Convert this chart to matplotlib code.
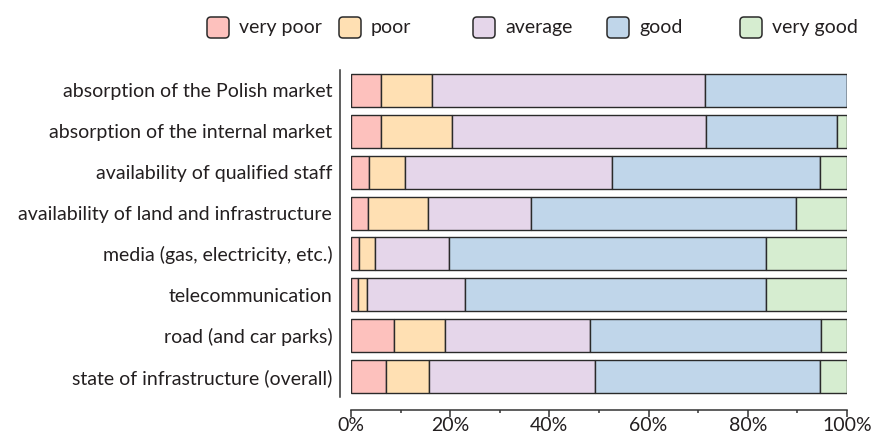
import matplotlib
matplotlib.use("Agg")
import matplotlib.pyplot as plt
from matplotlib.patches import FancyBboxPatch
from matplotlib.ticker import MultipleLocator
from matplotlib.transforms import IdentityTransform
import numpy as np

plt.rcParams['font.family'] = ['Lato', 'DejaVu Sans']

categories = [
    "absorption of the Polish market",
    "absorption of the internal market",
    "availability of qualified staff",
    "availability of land and infrastructure",
    "media (gas, electricity, etc.)",
    "telecommunication",
    "road (and car parks)",
    "state of infrastructure (overall)",
]
series_names = ["very poor", "poor", "average", "good", "very good"]
very_poor = [6.1, 6.1, 3.6, 3.4, 1.6, 1.5, 8.6, 7.0]
poor      = [10.2, 14.2, 7.3, 12.1, 3.3, 1.7, 10.4, 8.8]
average   = [55.1, 51.2, 41.8, 20.7, 14.8, 19.8, 29.2, 33.3]
good      = [28.6, 26.5, 41.8, 53.5, 63.9, 60.6, 46.6, 45.5]
very_good = [0.0, 2.0, 5.5, 10.3, 16.4, 16.4, 5.2, 5.4]
colors = ["#fdc1bd", "#ffe0b3", "#e5d6ea", "#c0d6ea", "#d6edd0"]
xtick_labels = ["0%", "20%", "40%", "60%", "80%", "100%"]

text_color = "#231f20"
edge_color = "#2a2a2a"
FS = 14

W, H = 889, 434
fig = plt.figure(figsize=(W / 100, H / 100), dpi=100)
ax = fig.add_axes([351 / W, (H - 397) / H, 496 / W, (397 - 70) / H])

data = [very_poor, poor, average, good, very_good]
y = np.arange(len(categories))
left = np.zeros(len(categories))
for vals, col, name in zip(data, colors, series_names):
    v = np.array(vals) / 100.0
    ax.barh(y, v, left=left, height=0.81, color=col, edgecolor=edge_color,
            linewidth=1.0, label=name, zorder=2)
    left += v

ax.set_ylim(len(categories) - 0.5, -0.5)
ax.set_xlim(0, 1)
ax.xaxis.set_minor_locator(MultipleLocator(0.1))
ax.set_xticks(np.linspace(0, 1, len(xtick_labels)))
ax.set_xticklabels(xtick_labels)
ax.set_yticks(y)
ax.set_yticklabels(categories)

for s in ["top", "right"]:
    ax.spines[s].set_visible(False)
ax.spines["left"].set_position(("outward", 8))
ax.spines["bottom"].set_position(("outward", 9))
for s in ["left", "bottom"]:
    ax.spines[s].set_color("#333333")
    ax.spines[s].set_linewidth(1.1)
ax.tick_params(axis="y", length=0, pad=5.5, labelsize=FS, labelcolor=text_color)
ax.tick_params(axis="x", which="major", length=5, width=1.1, color="#333333",
               pad=0.5, labelsize=FS, labelcolor=text_color)
ax.tick_params(axis="x", which="minor", length=2, width=1.1, color="#333333")

# legend (manual, equal column spacing), drawn in pixel coordinates
box_x = [207, 339, 473, 607, 740]
box_w, box_h = 22, 21
box_top = 17
for bx, col, name in zip(box_x, colors, series_names):
    p = FancyBboxPatch((bx, H - box_top - box_h), box_w, box_h,
                       boxstyle="round,pad=0,rounding_size=4",
                       transform=IdentityTransform(), facecolor=col,
                       edgecolor=edge_color, linewidth=1.1)
    fig.add_artist(p)
    fig.text((bx + box_w + 10) / W, (H - box_top - box_h / 2) / H, name,
             fontsize=FS, color=text_color, va="center", ha="left")

fig.savefig("out.png", dpi=100)
